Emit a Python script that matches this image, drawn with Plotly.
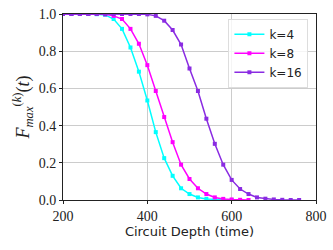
import plotly.graph_objects as go

t4 = [200, 220, 240, 260, 280, 300, 320, 340, 360, 380, 400, 420, 440, 460, 480, 500, 520, 540, 560, 580, 600]
f4 = [1.0, 1.0, 1.0, 1.0, 0.999, 0.995, 0.973, 0.92, 0.82, 0.69, 0.535, 0.365, 0.225, 0.13, 0.063, 0.032, 0.014, 0.006, 0.002, 0.001, 0.0]

t8 = [200, 220, 240, 260, 280, 300, 320, 340, 360, 380, 400, 420, 440, 460, 480, 500, 520, 540, 560, 580, 600, 620, 640]
f8 = [1.0, 1.0, 1.0, 1.0, 1.0, 0.998, 0.99, 0.973, 0.92, 0.84, 0.725, 0.586, 0.446, 0.311, 0.19, 0.113, 0.063, 0.032, 0.014, 0.006, 0.003, 0.001, 0.0]

t16 = [200, 220, 240, 260, 280, 300, 320, 340, 360, 380, 400, 420, 440, 460, 480, 500, 520, 540, 560, 580, 600, 620, 640, 660, 680, 700, 720, 740, 760]
f16 = [1.0, 1.0, 1.0, 1.0, 1.0, 1.0, 1.0, 1.0, 1.0, 1.0, 0.998, 0.99, 0.964, 0.914, 0.836, 0.707, 0.586, 0.437, 0.302, 0.19, 0.108, 0.059, 0.032, 0.014, 0.007, 0.003, 0.001, 0.0, 0.0]

series = [("k=4", t4, f4, "#00FFFF"), ("k=8", t8, f8, "#FF00FF"), ("k=16", t16, f16, "#8A2BE2")]

x_ticks = [200, 400, 600, 800]
y_ticks = [0.0, 0.2, 0.4, 0.6, 0.8, 1.0]

fig = go.Figure()
for name, t, f, c in series:
    fig.add_trace(go.Scatter(x=t, y=f, name=name, mode="lines+markers",
                             line=dict(color=c, width=1.5),
                             marker=dict(symbol="square", size=4, color=c)))

axis_common = dict(showline=True, linecolor="#222", linewidth=1, mirror=True,
                   showgrid=True, gridcolor="#cccccc", gridwidth=1,
                   ticks="outside", ticklen=3, tickcolor="#222", zeroline=False,
                   automargin=False,
                   tickfont=dict(family="Liberation Serif", size=14, color="#222"))

fig.update_layout(
    width=333, height=250,
    margin=dict(l=63, r=17, t=14, b=50),
    paper_bgcolor="white", plot_bgcolor="white",
    xaxis=dict(range=[200, 800], tickvals=x_ticks, ticktext=[str(v) for v in x_ticks],
               title=dict(text="Circuit Depth (time)", font=dict(family="DejaVu Sans", size=13, color="#222"), standoff=4),
               **axis_common),
    yaxis=dict(range=[0, 1], tickvals=y_ticks, ticktext=["%.1f" % v for v in y_ticks],
               title=dict(text="<i>F</i><sub><i>max</i></sub><sup>(<i>k</i>)</sup>(<i>t</i>)",
                          font=dict(family="Liberation Serif", size=18, color="#222"), standoff=4),
               **axis_common),
    legend=dict(x=0.97, y=0.975, xanchor="right", yanchor="top",
                bgcolor="rgba(255,255,255,0.8)", bordercolor="#dddddd", borderwidth=1,
                font=dict(family="DejaVu Sans", size=12, color="#222"),
                itemwidth=30, tracegroupgap=0),
    showlegend=True,
)

fig.write_html("out.html", config={"displayModeBar": False},
               post_script="document.body.style.margin='0';")
